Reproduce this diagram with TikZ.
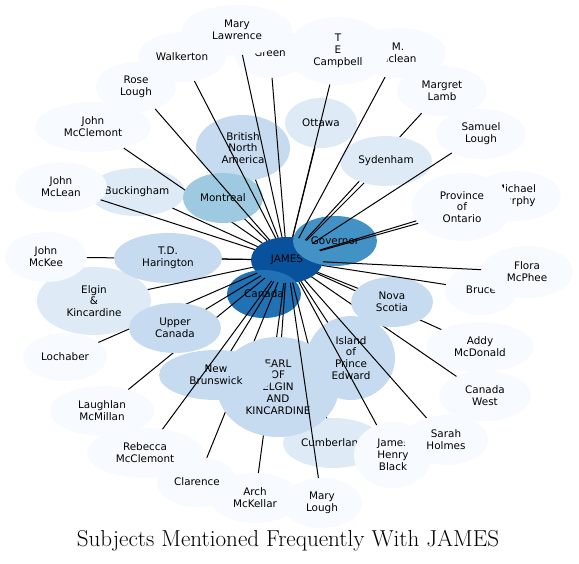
\documentclass[tikz,border=0pt]{standalone}
\usepackage{fontspec}
\newfontfamily\nodefont{DejaVu Sans}
\usetikzlibrary{shapes.geometric}
\definecolor{b1}{HTML}{F7FBFF}
\definecolor{b2}{HTML}{DEEBF7}
\definecolor{b3}{HTML}{C6DBEF}
\definecolor{b4}{HTML}{9ECAE1}
\definecolor{b6}{HTML}{4292C6}
\definecolor{b7}{HTML}{2171B5}
\definecolor{b8}{HTML}{08519C}
\tikzset{
  nd/.style={ellipse, inner sep=0pt, outer sep=0pt, align=center, text=black,
    font=\nodefont\fontsize{10.4}{11.8}\selectfont},
  nsz/.style 2 args={minimum width={2*#1}, minimum height={2*#2}},
  lnk/.style={draw=black, line width=1pt},
}
\begin{document}
\begin{tikzpicture}[x=1pt,y=-1pt]
\useasboundingbox (0,0) rectangle (579,564);
% core
\node[nd,fill=b8,nsz={36}{23}] (james) at (287,260) {JAMES};
\node[nd,fill=b7,nsz={37}{24}] (canada) at (264,294) {Canada};
\node[nd,fill=b6,nsz={42}{25}] (governor) at (335,241) {Governor};
% base nodes
\node[nd,fill=b3,nsz={47}{33}] (bna) at (243,148) {British\\North\\America};
\node[nd,fill=b2,nsz={36}{25}] (ottawa) at (321,123) {Ottawa};
\node[nd,fill=b2,nsz={48}{24}] (buck) at (137,192) {Buckingham};
\node[nd,fill=b2,nsz={57}{34}] (elgin) at (94,301) {Elgin\\\&\\Kincardine};
\node[nd,fill=b2,nsz={50}{25}] (cumb) at (333,443) {Cumberland};
% nodes whose connectors are partly hidden
\node[nd,fill=b1,nsz={45}{25}] (mlamb) at (442,91) {Margret\\Lamb};
\draw[lnk] (mlamb) -- (james);
\node[nd,fill=b1,nsz={45}{25}] (murphy) at (516,196) {Michael\\Murphy};
\draw[lnk] (murphy) -- (james);
\node[nd,fill=b1,nsz={45}{25}] (arch) at (255,498) {Arch\\McKellar};
\draw[lnk] (arch) -- (james);
\node[nd,fill=b1,nsz={40}{25}] (clar) at (197,482) {Clarence};
\draw[lnk] (clar) -- (james);
\draw[lnk] (cumb) -- (james);
\node[nd,fill=b1,nsz={52}{25}] (laugh) at (102,411) {Laughlan\\McMillan};
\draw[lnk] (laugh) -- (james);
\node[nd,fill=b1,nsz={42}{24}] (loch) at (65,357) {Lochaber};
\draw[lnk] (loch) -- (james);
\node[nd,fill=b1,nsz={41}{25}] (mckee) at (46,257) {John\\McKee};
\draw[lnk] (mckee) -- (james);
\node[nd,fill=b1,nsz={58}{25}] (mcclem) at (93,127) {John\\McClemont};
\draw[lnk] (mcclem) -- (james);
\node[nd,fill=b1,nsz={54}{25}] (addy) at (480,347) {Addy\\McDonald};
\draw[lnk] (addy) -- (james);
\node[nd,fill=b1,nsz={46}{25}] (cwest) at (485,396) {Canada\\West};
\draw[lnk] (cwest) -- (james);
% occluding nodes
\node[nd,fill=b2,nsz={46}{25}] (syd) at (386,161) {Sydenham};
\node[nd,fill=b1,nsz={50}{34}] (ont) at (462,207) {Province\\of\\Ontario};
\node[nd,fill=b3,nsz={61}{50}] (earl) at (278,387) {EARL\\OF\\ELGIN\\AND\\KINCARDINE};
\node[nd,fill=b3,nsz={44}{42}] (pei) at (351,358) {Island\\of\\Prince\\Edward};
\node[nd,fill=b3,nsz={57}{25}] (nb) at (216,375) {New\\Brunswick};
\node[nd,fill=b3,nsz={46}{25}] (upper) at (175,328) {Upper\\Canada};
\node[nd,fill=b3,nsz={54}{25}] (tdh) at (168,258) {T.D.\\Harington};
\node[nd,fill=b4,nsz={40}{25}] (montreal) at (223,198) {Montreal};
\node[nd,fill=b3,nsz={41}{25}] (nova) at (392,302) {Nova\\Scotia};
\foreach \n in {syd,ont,earl,nb,upper,tdh,montreal,nova,bna,ottawa,pei,buck,elgin}
  \draw[lnk] (\n) -- (james);
% outer nodes
\node[nd,fill=b1,nsz={36}{25}] (green) at (270,53) {Green};
\draw[lnk] (green) -- (james);
\node[nd,fill=b1,nsz={55}{25}] (mlaw) at (237,30) {Mary\\Lawrence};
\draw[lnk] (mlaw) -- (james);
\node[nd,fill=b1,nsz={44}{25}] (walk) at (182,57) {Walkerton};
\draw[lnk] (walk) -- (james);
\node[nd,fill=b1,nsz={40}{25}] (rose) at (136,87) {Rose\\Lough};
\draw[lnk] (rose) -- (james);
\node[nd,fill=b1,nsz={48}{25}] (mclean) at (398,53) {M.\\Mclean};
\draw[lnk] (mclean) -- (james);
\node[nd,fill=b1,nsz={51}{34}] (tec) at (338,51) {T\\E\\Campbell};
\draw[lnk] (tec) -- (james);
\node[nd,fill=b1,nsz={45}{25}] (samuel) at (481,134) {Samuel\\Lough};
\draw[lnk] (samuel) -- (james);
\node[nd,fill=b1,nsz={36}{25}] (bruce) at (481,290) {Bruce};
\draw[lnk] (bruce) -- (james);
\node[nd,fill=b1,nsz={46}{26}] (flora) at (527,272) {Flora\\McPhee};
\draw[lnk] (flora) -- (james);
\node[nd,fill=b1,nsz={46}{25}] (jmclean) at (61,187) {John\\McLean};
\draw[lnk] (jmclean) -- (james);
\node[nd,fill=b1,nsz={58}{25}] (rebecca) at (145,453) {Rebecca\\McClemont};
\draw[lnk] (rebecca) -- (james);
\node[nd,fill=b1,nsz={40}{25}] (mlough) at (322,503) {Mary\\Lough};
\draw[lnk] (mlough) -- (james);
\node[nd,fill=b1,nsz={39}{33}] (jhb) at (393,455) {James\\Henry\\Black};
\draw[lnk] (jhb) -- (james);
\node[nd,fill=b1,nsz={42}{25}] (sarah) at (446,440) {Sarah\\Holmes};
\draw[lnk] (sarah) -- (james);
% title
\node[font=\fontsize{23.1}{27}\selectfont] (title) at (288,541) {Subjects Mentioned Frequently With JAMES};
\end{tikzpicture}
\end{document}
